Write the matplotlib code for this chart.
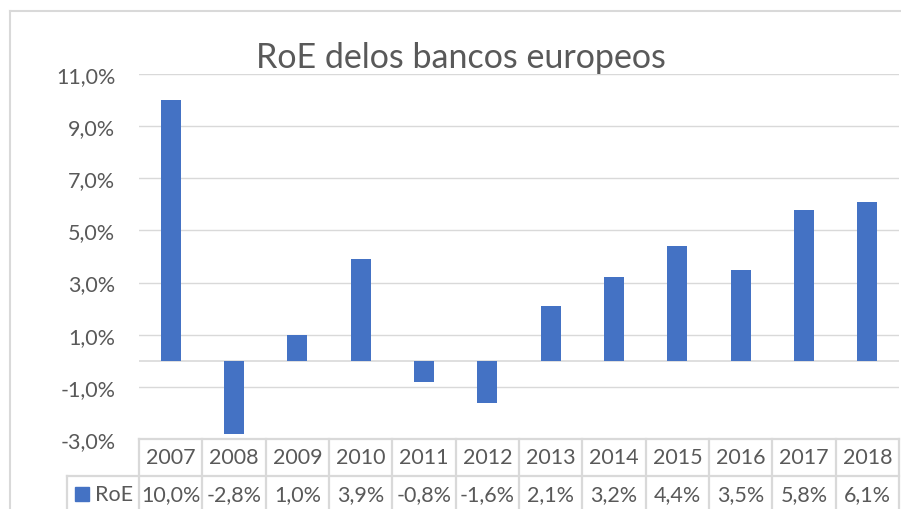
import matplotlib
matplotlib.use("Agg")
import matplotlib.pyplot as plt
from matplotlib.lines import Line2D
from matplotlib.patches import Rectangle
from matplotlib.ticker import FixedLocator, FuncFormatter

# ── data ──────────────────────────────────────
years = ["2007", "2008", "2009", "2010", "2011", "2012",
         "2013", "2014", "2015", "2016", "2017", "2018"]
roe = [10.0, -2.8, 1.0, 3.9, -0.8, -1.6, 2.1, 3.2, 4.4, 3.5, 5.8, 6.1]
y_ticks = [-3, -1, 1, 3, 5, 7, 9, 11]
series_name = "RoE"
title = "RoE delos bancos europeos"

BAR_COLOR = "#4472C4"
TEXT_COLOR = "#595959"
LINE_COLOR = "#d9d9d9"
W, H = 901, 510
FS = 15.5

plt.rcParams["font.family"] = ["Lato", "DejaVu Sans"]


def pct(v):
    return f"{v:.1f}%".replace(".", ",")


fig = plt.figure(figsize=(W / 100, H / 100), dpi=100)
fig.patch.set_facecolor("white")

# chart area frame (only left/top visible in the crop)
fx, fy = 10 / W, 1 - 12 / H
fig.add_artist(Line2D([fx, fx], [0, fy], color=LINE_COLOR, lw=1.5))
fig.add_artist(Line2D([fx, 1], [fy, fy], color=LINE_COLOR, lw=1.5))

# plot area in pixels: x 139..899, y 75..440
ax = fig.add_axes([139 / W, 1 - 440 / H, (899 - 139) / W, (440 - 75) / H])
ax.set_xlim(-0.5, len(years) - 0.5)
ax.set_ylim(y_ticks[0], y_ticks[-1])

x = list(range(len(years)))
ax.bar(x, roe, width=0.32, color=BAR_COLOR, zorder=3)

ax.yaxis.set_major_locator(FixedLocator(y_ticks))
ax.yaxis.set_major_formatter(FuncFormatter(lambda v, _: pct(v)))
ax.grid(axis="y", color=LINE_COLOR, lw=1.0, zorder=0)
ax.axhline(0, color=LINE_COLOR, lw=1.2, zorder=1)
ax.tick_params(axis="y", length=0, pad=17, labelsize=FS, labelcolor=TEXT_COLOR)
ax.set_xticks([])
for s in ax.spines.values():
    s.set_visible(False)

# ── data table under the axis ────────────────
tr = ax.get_xaxis_transform()
px_x = (len(years)) / (899 - 139)      # data units per pixel (x)
px_y = 1 / (440 - 75)                   # axes units per pixel (y)
row_h = 37 * px_y
left_cell = -0.5 - (139 - 67) * px_x
n = len(years)

line_kw = dict(color=LINE_COLOR, lw=1.6, transform=tr, clip_on=False)
ax.add_line(Line2D([-0.5, n - 0.5], [0, 0], **line_kw))
ax.add_line(Line2D([left_cell, n - 0.5], [-row_h, -row_h], **line_kw))
ax.add_line(Line2D([left_cell, left_cell], [-row_h, -3 * row_h], **line_kw))
for i in range(n + 1):
    ax.add_line(Line2D([i - 0.5, i - 0.5], [0, -3 * row_h], **line_kw))

for i, (yr, v) in enumerate(zip(years, roe)):
    ax.text(i, -row_h / 2, yr, transform=tr, ha="center", va="center",
            fontsize=FS, color=TEXT_COLOR, clip_on=False)
    ax.text(i, -1.5 * row_h, pct(v), transform=tr, ha="center", va="center",
            fontsize=FS, color=TEXT_COLOR, clip_on=False)

# legend key + series name
ax.add_patch(Rectangle((-0.5 - (139 - 75) * px_x, -(502 - 440) * px_y),
                       14 * px_x, 14 * px_y, transform=tr,
                       color=BAR_COLOR, clip_on=False))
ax.text(-0.5 - (139 - 95) * px_x, -1.5 * row_h, series_name, transform=tr,
        ha="left", va="center", fontsize=FS, color=TEXT_COLOR, clip_on=False)

fig.text(461 / W, 1 - 68 / H, title, ha="center", va="baseline",
         fontsize=24.5, color=TEXT_COLOR)

fig.savefig("out.png", dpi=100)
